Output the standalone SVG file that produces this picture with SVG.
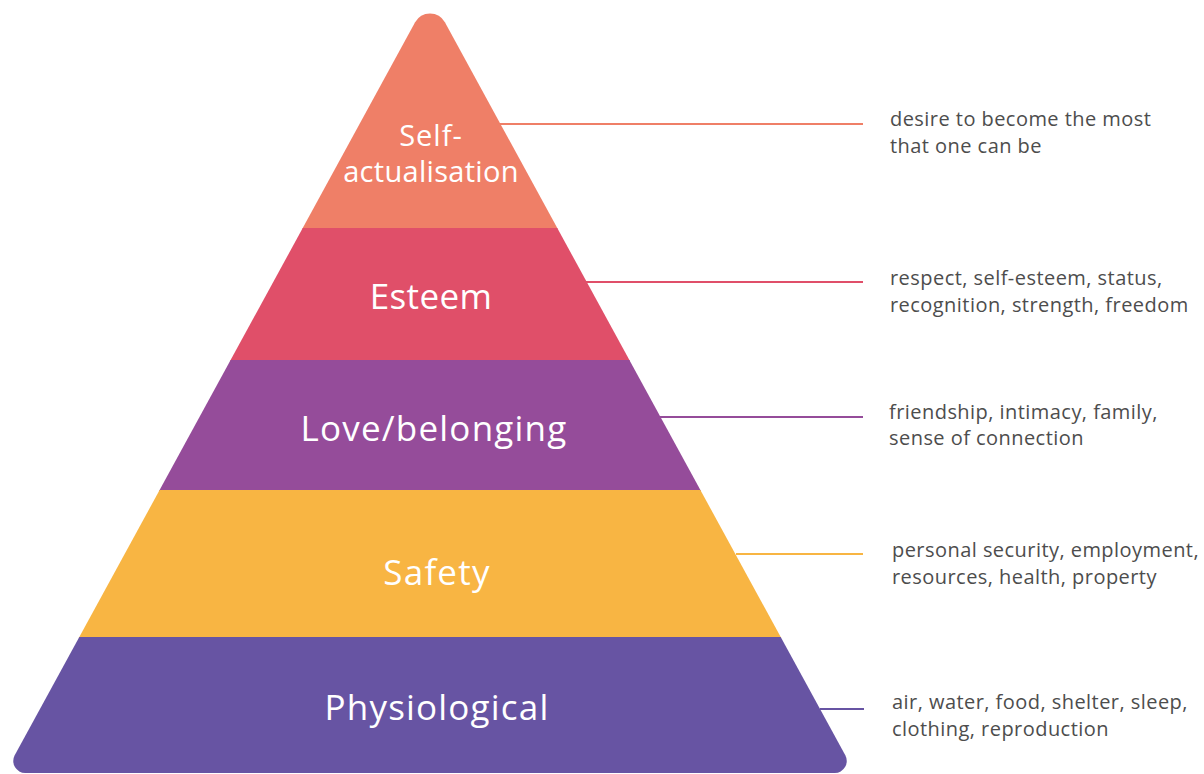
<svg xmlns="http://www.w3.org/2000/svg" width="1204" height="774" viewBox="0 0 1204 774">
  <style>
    .lvl { font-family: "Open Sans", "Liberation Sans", sans-serif; font-size: 35px; letter-spacing: 1.2px; fill: #ffffff; text-anchor: middle; }
    .lvl-sm { font-size: 29px; letter-spacing: 1px; }
    .tight { letter-spacing: 0.3px; }
    .snug { letter-spacing: 0.4px; }
    .desc { font-family: "Open Sans", "Liberation Sans", sans-serif; font-size: 20px; letter-spacing: 0.45px; fill: #4d4d4d; }
    .lead { stroke-width: 2; fill: none; }
  </style>
  <defs>
    <!-- pyramid outline with rounded apex and base corners -->
    <clipPath id="pyramid">
      <path d="M415.1,22.3 A17,17 0 0 1 444.9,22.3 L845.3,755.3 A12,12 0 0 1 834.8,773 L25.2,773 A12,12 0 0 1 14.7,755.3 Z"/>
    </clipPath>
  </defs>
  <rect width="1204" height="774" fill="#ffffff"/>

  <g clip-path="url(#pyramid)">
    <g id="self-actualisation">
      <rect x="0" y="0" width="900" height="229" fill="#EF7F67"/>
    </g>
    <g id="esteem">
      <rect x="0" y="228" width="900" height="133" fill="#E04F69"/>
    </g>
    <g id="love-belonging">
      <rect x="0" y="360" width="900" height="131" fill="#954C9A"/>
    </g>
    <g id="safety">
      <rect x="0" y="490" width="900" height="148" fill="#F8B543"/>
    </g>
    <g id="physiological">
      <rect x="0" y="637" width="900" height="140" fill="#6754A3"/>
    </g>
  </g>

  <g id="level-labels">
    <text class="lvl lvl-sm" x="431" y="146">Self-</text>
    <text class="lvl lvl-sm tight" x="431" y="182">actualisation</text>
    <text class="lvl snug" x="431" y="309">Esteem</text>
    <text class="lvl" x="434" y="441">Love/belonging</text>
    <text class="lvl" x="437" y="585">Safety</text>
    <text class="lvl" x="437" y="720">Physiological</text>
  </g>

  <g id="connectors">
    <line class="lead" x1="500" y1="124" x2="863" y2="124" stroke="#EF7F67"/>
    <line class="lead" x1="586" y1="282" x2="863" y2="282" stroke="#E04F69"/>
    <line class="lead" x1="660" y1="417" x2="863" y2="417" stroke="#954C9A"/>
    <line class="lead" x1="736" y1="554" x2="863" y2="554" stroke="#F8B543"/>
    <line class="lead" x1="820" y1="709" x2="864" y2="709" stroke="#6754A3"/>
  </g>

  <g id="descriptions">
    <text class="desc" x="890" y="126">desire to become the most</text>
    <text class="desc" x="890" y="153">that one can be</text>
    <text class="desc" x="890" y="285">respect, self-esteem, status,</text>
    <text class="desc" x="890" y="312">recognition, strength, freedom</text>
    <text class="desc" x="889" y="419">friendship, intimacy, family,</text>
    <text class="desc" x="889" y="445">sense of connection</text>
    <text class="desc" x="892" y="557">personal security, employment,</text>
    <text class="desc" x="892" y="584">resources, health, property</text>
    <text class="desc" x="892" y="709">air, water, food, shelter, sleep,</text>
    <text class="desc" x="892" y="736">clothing, reproduction</text>
  </g>
</svg>
